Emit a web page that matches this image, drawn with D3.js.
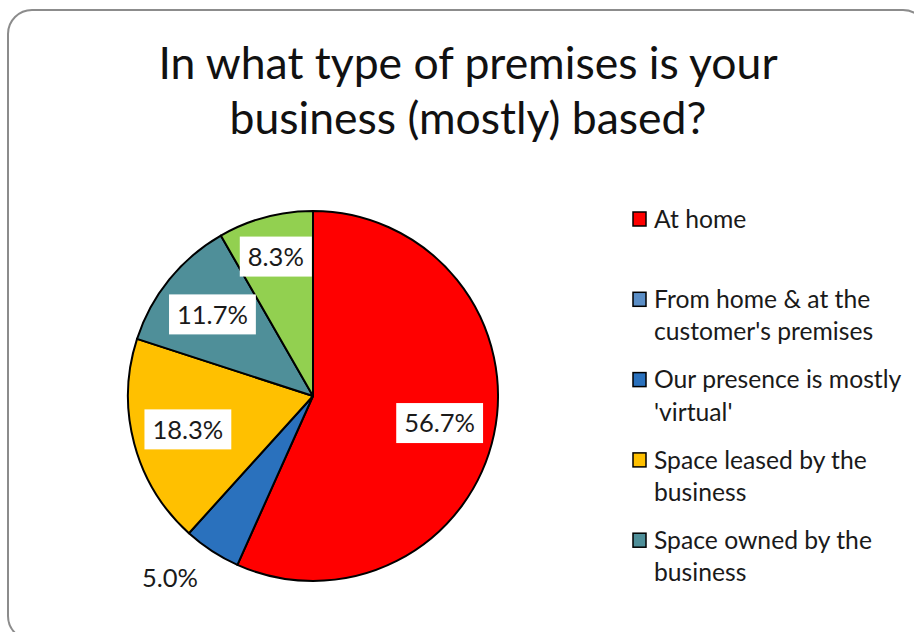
<!DOCTYPE html>
<html>
<head>
<meta charset="utf-8">
<script src="https://cdn.jsdelivr.net/npm/d3@7"></script>
<style>
  html, body { margin: 0; padding: 0; background: #ffffff; }
  svg { display: block; }
  text { font-family: Lato, "Open Sans", sans-serif; }
</style>
</head>
<body>
<svg id="chart" width="914" height="632"></svg>
<script>
// Survey answers, in drawing order (clockwise from 12 o'clock)
const categories = [
  "At home",
  "From home & at the customer's premises",
  "Our presence is mostly 'virtual'",
  "Space leased by the business",
  "Space owned by the business",
  "Other"
];
const shares = [56.7, 0.0, 5.0, 18.3, 11.7, 8.3];
const sliceColors = ["#ff0000", "#5b8ec6", "#2a71bd", "#ffc000", "#4f8f99", "#92d050"];
// Legend lines (wrapped as in the legend box); the last entry falls outside the frame
const legendLines = [
  ["At home"],
  ["From home & at the", "customer's premises"],
  ["Our presence is mostly", "'virtual'"],
  ["Space leased by the", "business"],
  ["Space owned by the", "business"]
];
const titleLines = ["In what type of premises is your", "business (mostly) based?"];

const svg = d3.select("#chart");

// Chart frame (rounded, running past the right and bottom edges)
svg.append("rect")
  .attr("x", 8).attr("y", 10)
  .attr("width", 919).attr("height", 630)
  .attr("rx", 24).attr("ry", 24)
  .attr("fill", "#ffffff")
  .attr("stroke", "#8c8c8c")
  .attr("stroke-width", 2);

// Title
svg.append("text")
  .attr("x", 468).attr("y", 79)
  .attr("text-anchor", "middle")
  .attr("font-size", 44.5)
  .attr("fill", "#111")
  .selectAll("tspan")
  .data(titleLines)
  .join("tspan")
  .attr("x", 468)
  .attr("dy", (d, i) => i === 0 ? 0 : 55)
  .text(d => d);

// Pie
const cx = 313, cy = 396, radius = 185;
const pie = d3.pie().sort(null).value(d => d.value);
const arcs = pie(categories.map((c, i) => ({ name: c, value: shares[i], color: sliceColors[i] })));
const arc = d3.arc().innerRadius(0).outerRadius(radius);

const g = svg.append("g").attr("transform", `translate(${cx},${cy})`);

g.selectAll("path.slice")
  .data(arcs.filter(d => d.data.value > 0))
  .join("path")
  .attr("class", "slice")
  .attr("d", arc)
  .attr("fill", d => d.data.color)
  .attr("stroke", "#000")
  .attr("stroke-width", 2)
  .attr("stroke-linejoin", "round");

// Data labels: inside with a white box, very thin slices outside without one
const fmt = v => v.toFixed(1) + "%";
arcs.filter(d => d.data.value > 0).forEach(d => {
  const v = d.data.value;
  const mid = (d.startAngle + d.endAngle) / 2;
  const sx = Math.sin(mid), sy = -Math.cos(mid);
  if (v >= 8) {
    const factor = v < 10 ? 0.78 : 0.70;
    const lg = g.append("g")
      .attr("transform", `translate(${sx * radius * factor},${sy * radius * factor})`);
    const t = lg.append("text")
      .attr("text-anchor", "middle")
      .attr("dy", "0.36em")
      .attr("font-size", 25.5)
      .attr("fill", "#1a1a1a")
      .text(fmt(v));
    const w = t.node().getComputedTextLength();
    lg.insert("rect", "text")
      .attr("x", -w / 2 - 8).attr("y", -20)
      .attr("width", w + 16).attr("height", 40)
      .attr("fill", "#ffffff");
  } else {
    // outside: text box hangs off a point just beyond the rim
    const px = sx * (radius + 20), py = sy * (radius + 20);
    g.append("text")
      .attr("x", px - 3).attr("y", py + 10)
      .attr("text-anchor", sx < 0 ? "end" : "start")
      .attr("dy", "0.36em")
      .attr("font-size", 25.5)
      .attr("fill", "#1a1a1a")
      .text(fmt(v));
  }
});

// Legend
const legend = svg.append("g").attr("transform", "translate(633,219)");
const entryStep = 80.3, lineStep = 32.5;
const items = legend.selectAll("g.item")
  .data(legendLines)
  .join("g")
  .attr("class", "item")
  .attr("transform", (d, i) => `translate(0,${i * entryStep})`);

items.append("rect")
  .attr("x", 0).attr("y", -7)
  .attr("width", 13).attr("height", 14)
  .attr("fill", (d, i) => sliceColors[i])
  .attr("stroke", "#000")
  .attr("stroke-width", 1.5);

items.append("text")
  .attr("font-size", 24.7)
  .attr("fill", "#1a1a1a")
  .selectAll("tspan")
  .data(d => d)
  .join("tspan")
  .attr("x", 21)
  .attr("y", (d, i) => i * lineStep)
  .attr("dy", "0.35em")
  .text(d => d);
</script>
</body>
</html>
